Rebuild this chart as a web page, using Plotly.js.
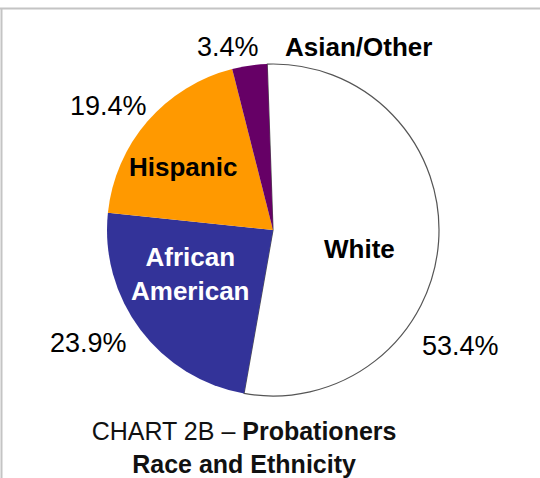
<!DOCTYPE html>
<html>
<head>
<meta charset="utf-8">
<script src="https://cdn.plot.ly/plotly-3.0.1.min.js"></script>
<style>html,body{margin:0;padding:0;background:#fff;}#chart{width:540px;height:478px;}</style>
</head>
<body>
<div id="chart"></div>
<script>
// ---- data ----
const categories = ["White", "African American", "Hispanic", "Asian/Other"];
const values = [53.4, 23.9, 19.4, 3.4];
const sliceColors = ["#FFFFFF", "#333399", "#FF9900", "#660066"];
const labelColors = ["#000000", "#FFFFFF", "#000000", "#000000"];

// ---- layout positions for labels (px on the page, not data) ----
const namePos = [[359, 249], [190, 274], [183, 167], [358, 47]];
const pctPos = [[460, 346], [88, 343], [108, 106], [228, 47]];

const W = 540, H = 478;
const FONT = "Liberation Sans, Arial, sans-serif";

const trace = {
  type: "pie",
  labels: categories,
  values: values,
  textinfo: "none",
  sort: false,
  direction: "clockwise",
  rotation: -2,
  marker: {colors: sliceColors, line: {color: ["#555555", "rgba(0,0,0,0)", "rgba(0,0,0,0)", "rgba(0,0,0,0)"], width: [1.2, 0, 0, 0]}},
  domain: {x: [107 / W, 439 / W], y: [82 / H, 414 / H]},
  hoverinfo: "label+value",
  showlegend: false
};

const annotations = [];
categories.forEach((c, i) => {
  annotations.push({
    text: "<b>" + c.replace(" ", "<br>") + "</b>",
    x: namePos[i][0] / W, y: 1 - namePos[i][1] / H,
    xref: "paper", yref: "paper", xanchor: "center", yanchor: "middle",
    showarrow: false,
    font: {family: FONT, size: 26, color: labelColors[i]}
  });
});
values.forEach((v, i) => {
  annotations.push({
    text: v.toFixed(1) + "%",
    x: pctPos[i][0] / W, y: 1 - pctPos[i][1] / H,
    xref: "paper", yref: "paper", xanchor: "center", yanchor: "middle",
    showarrow: false,
    font: {family: FONT, size: 27, color: "#000"}
  });
});

const layout = {
  width: W, height: H,
  margin: {l: 0, r: 0, t: 0, b: 0},
  paper_bgcolor: "#FFFFFF",
  plot_bgcolor: "#FFFFFF",
  title: {
    text: "<span style='font-weight:normal'>CHART 2B – </span><b>Probationers</b><br><b>Race and Ethnicity</b>",
    font: {family: FONT, size: 25, color: "#111"},
    x: 0.452, xanchor: "center", xref: "paper",
    y: 0.079, yanchor: "top", yref: "container"
  },
  annotations: annotations,
  shapes: [
    {type: "line", xref: "paper", yref: "paper", x0: 0, x1: 1, y0: 1 - 8.5 / H, y1: 1 - 8.5 / H, line: {color: "#C4C4C4", width: 2}},
    {type: "line", xref: "paper", yref: "paper", x0: 1.5 / W, x1: 1.5 / W, y0: 0, y1: 1 - 8.5 / H, line: {color: "#C4C4C4", width: 2}}
  ]
};

Plotly.newPlot("chart", [trace], layout, {staticPlot: true, displayModeBar: false});
</script>
</body>
</html>
